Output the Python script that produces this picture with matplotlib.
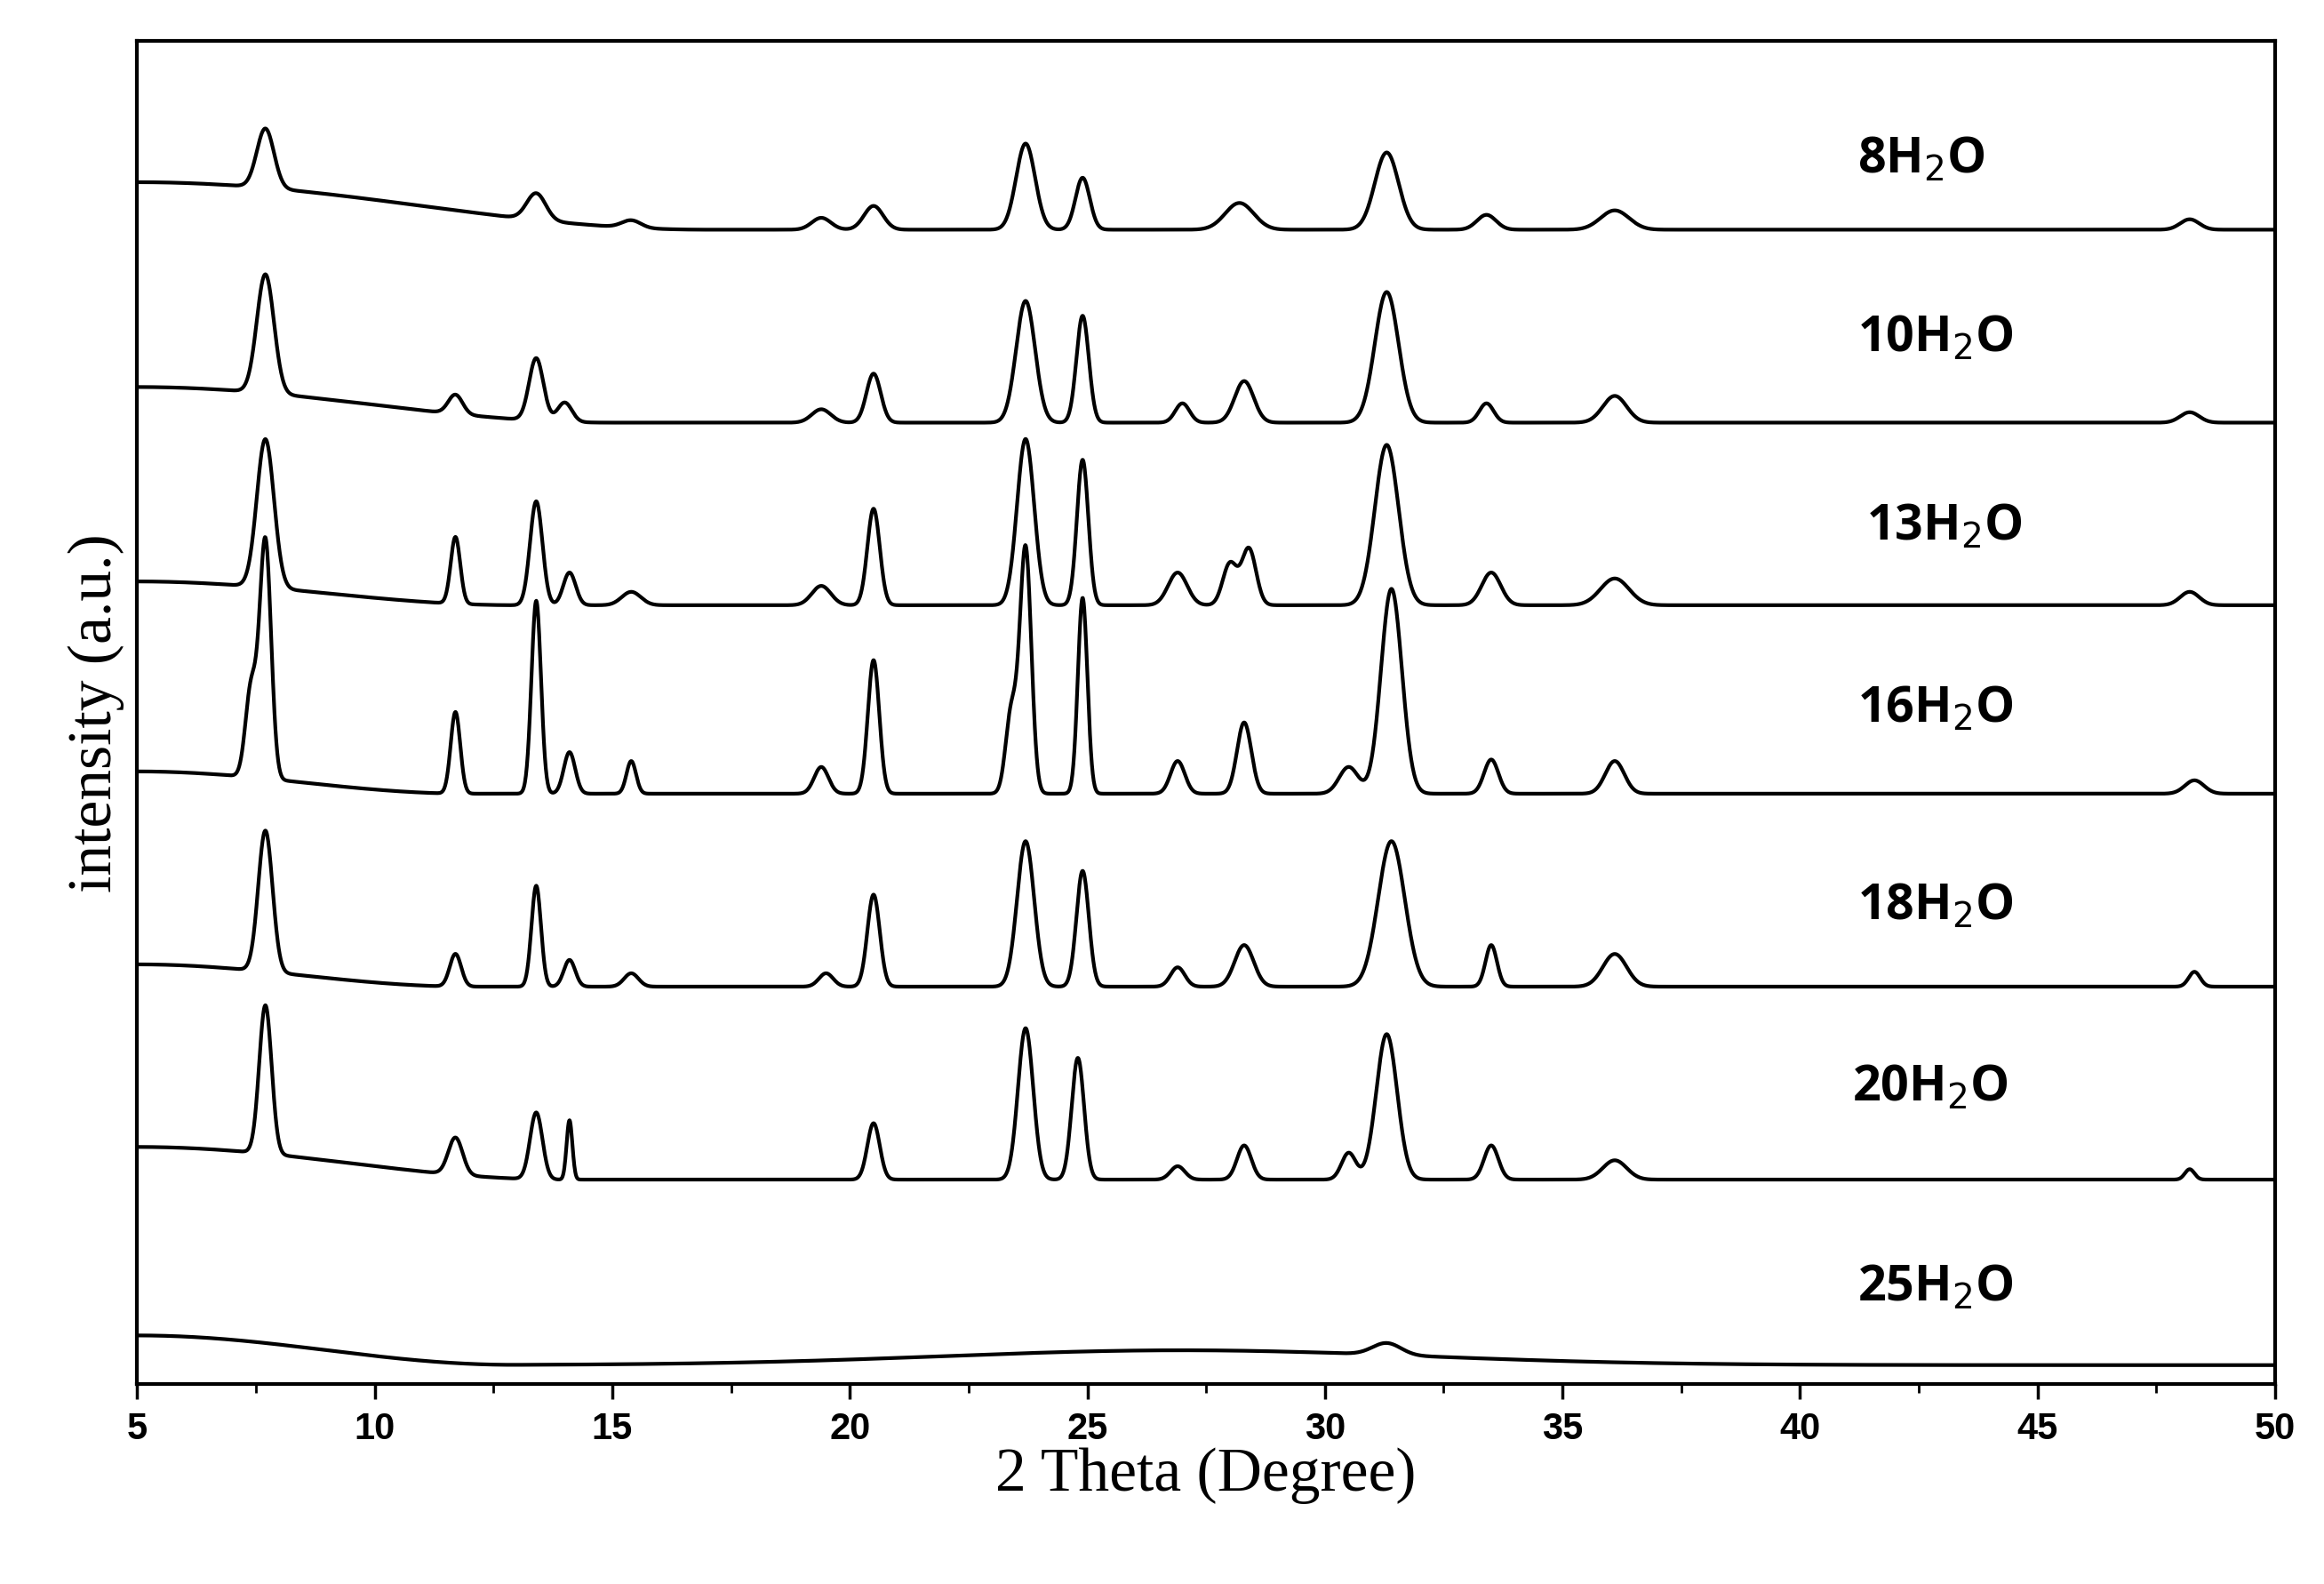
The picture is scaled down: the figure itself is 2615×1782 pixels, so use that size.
import matplotlib

matplotlib.use("Agg")
import matplotlib.pyplot as plt
import numpy as np

# sample labels, vertical offsets (arbitrary units) and reflections
labels = ["8H$_2$O", "10H$_2$O", "13H$_2$O", "16H$_2$O", "18H$_2$O", "20H$_2$O", "25H$_2$O"]
offsets = [778, 648, 525, 398, 268, 138, 13]
label_y = [825, 705, 578, 455, 322, 200, 65]
label_x = [41.2, 41.2, 41.4, 41.2, 41.2, 41.1, 41.2]

# (2theta, height, width) per sample
peaks = [
    [(7.7, 40, .18), (13.4, 18, .2), (15.4, 5, .2), (19.4, 8, .2), (20.5, 16, .2), (23.7, 58, .2),
     (24.9, 35, .15), (28.2, 18, .3), (31.3, 52, .25), (33.4, 10, .2), (36.1, 13, .3), (48.2, 7, .2)],
    [(7.7, 80, .18), (11.7, 13, .15), (13.4, 42, .15), (14.0, 13, .15), (19.4, 9, .2), (20.5, 33, .15),
     (23.7, 82, .2), (24.9, 72, .13), (27.0, 13, .15), (28.3, 28, .2), (31.3, 88, .25), (33.4, 13, .15),
     (36.1, 18, .25), (48.2, 7, .2)],
    [(7.7, 100, .18), (11.7, 45, .1), (13.4, 70, .13), (14.1, 22, .13), (15.4, 9, .2), (19.4, 13, .2),
     (20.5, 65, .13), (23.7, 112, .18), (24.9, 98, .12), (26.9, 22, .2), (28.0, 28, .15), (28.4, 38, .15),
     (31.3, 108, .25), (33.5, 22, .2), (36.1, 18, .3), (48.2, 9, .2)],
    [(7.7, 160, .12), (7.4, 60, .12), (11.7, 55, .1), (13.4, 130, .1), (14.1, 28, .12), (15.4, 22, .1),
     (19.4, 18, .15), (20.5, 90, .12), (23.4, 55, .12), (23.7, 165, .12), (24.9, 132, .1), (26.9, 22, .15),
     (28.3, 48, .15), (30.5, 18, .2), (31.4, 138, .22), (33.5, 23, .15), (36.1, 22, .2), (48.3, 9, .2)],
    [(7.7, 95, .15), (11.7, 22, .12), (13.4, 68, .1), (14.1, 18, .12), (15.4, 9, .15), (19.5, 9, .15),
     (20.5, 62, .13), (23.7, 98, .18), (24.9, 78, .13), (26.9, 13, .15), (28.3, 28, .2), (31.4, 98, .28),
     (33.5, 28, .12), (36.1, 22, .25), (48.3, 10, .12)],
    [(7.7, 100, .13), (11.7, 25, .15), (13.4, 45, .13), (14.1, 40, .06), (20.5, 38, .13), (23.7, 102, .16),
     (24.8, 82, .13), (26.9, 9, .15), (28.3, 23, .15), (30.5, 18, .15), (31.3, 98, .22), (33.5, 23, .15),
     (36.1, 13, .25), (48.2, 7, .1)],
    [(27.0, 10, 5.0), (31.3, 8, .3)],
]
# low-angle amorphous background: (amplitude at 5 deg, 2theta where it has faded out)
background = [(32, 17), (24, 15), (16, 13), (15, 12), (15, 12), (22, 14), (20, 13)]

two_theta = np.linspace(5, 50, 4500)

fig = plt.figure(figsize=(26.15, 17.82), dpi=100)
ax = fig.add_axes([0.059, 0.126, 0.92, 0.848])

for off, plist, (amp, end) in zip(offsets, peaks, background):
    y = np.full_like(two_theta, float(off))
    t = np.clip((two_theta - 5) / (end - 5), 0, 1)
    y += amp * 0.5 * (1 + np.cos(np.pi * t))
    for pos, h, w in plist:
        y += h * np.exp(-0.5 * ((two_theta - pos) / w) ** 2)
    ax.plot(two_theta, y, color="black", lw=3.0)

for x, y, lab in zip(label_x, label_y, labels):
    ax.text(x, y, lab, fontsize=40, fontweight="bold", family="Open Sans", va="center")

ax.set_xlim(5, 50)
ax.set_ylim(0, 905)
ax.set_yticks([])
ax.set_xticks(np.arange(5, 51, 5))
ax.set_xticks(np.arange(5, 51, 2.5), minor=True)
ax.tick_params(axis="x", which="major", length=12, width=2.5, labelsize=30, direction="out", pad=10)
ax.tick_params(axis="x", which="minor", length=7, width=2, direction="out")
for lab in ax.get_xticklabels():
    lab.set_family("Liberation Sans")
    lab.set_fontweight("bold")
for sp in ax.spines.values():
    sp.set_linewidth(3)
ax.set_xlabel("2 Theta (Degree)", fontsize=50, family="Liberation Serif", labelpad=0)
ax.set_ylabel("intensity (a.u.)", fontsize=50, family="Liberation Serif", labelpad=10)

fig.savefig("out.png")
